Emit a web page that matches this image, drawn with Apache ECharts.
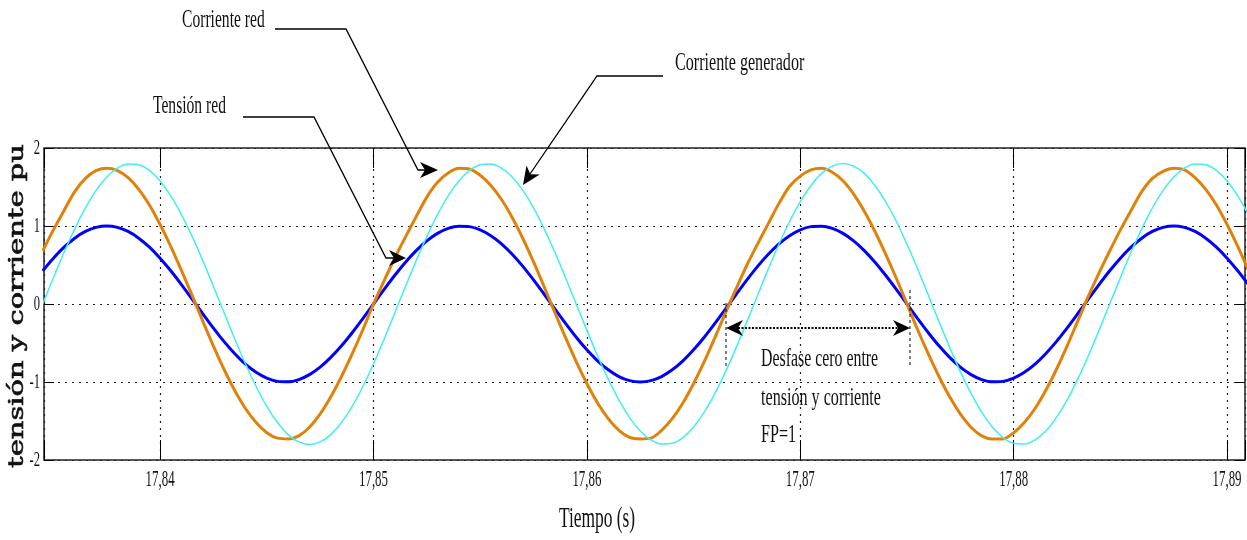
<!DOCTYPE html>
<html>
<head>
<meta charset="utf-8">
<script src="https://cdn.jsdelivr.net/npm/echarts@6/dist/echarts.min.js"></script>
<style>
  html, body { margin: 0; padding: 0; background: #fff; }
  #chart { width: 1247px; height: 540px; }
</style>
</head>
<body>
<div id="chart"></div>
<script>
// Sample instants (s), one every 0.5 ms
const times = [
  17.8345,17.835,17.8355,17.836,17.8365,17.837,17.8375,17.838,17.8385,17.839,
  17.8395,17.84,17.8405,17.841,17.8415,17.842,17.8425,17.843,17.8435,17.844,
  17.8445,17.845,17.8455,17.846,17.8465,17.847,17.8475,17.848,17.8485,17.849,
  17.8495,17.85,17.8505,17.851,17.8515,17.852,17.8525,17.853,17.8535,17.854,
  17.8545,17.855,17.8555,17.856,17.8565,17.857,17.8575,17.858,17.8585,17.859,
  17.8595,17.86,17.8605,17.861,17.8615,17.862,17.8625,17.863,17.8635,17.864,
  17.8645,17.865,17.8655,17.866,17.8665,17.867,17.8675,17.868,17.8685,17.869,
  17.8695,17.87,17.8705,17.871,17.8715,17.872,17.8725,17.873,17.8735,17.874,
  17.8745,17.875,17.8755,17.876,17.8765,17.877,17.8775,17.878,17.8785,17.879,
  17.8795,17.88,17.8805,17.881,17.8815,17.882,17.8825,17.883,17.8835,17.884,
  17.8845,17.885,17.8855,17.886,17.8865,17.887,17.8875,17.888,17.8885,17.889,
  17.8895,17.89,17.8905,17.891
];

// Tensión red (pu)
const tensionRed = [
  0.426,0.588,0.729,0.844,0.930,0.982,1.000,0.982,0.930,0.844,
  0.729,0.588,0.426,0.249,0.063,-0.125,-0.309,-0.482,-0.637,-0.771,
  -0.876,-0.951,-0.992,-0.998,-0.969,-0.905,-0.809,-0.685,-0.536,-0.368,
  -0.187,0,0.187,0.368,0.536,0.685,0.809,0.905,0.969,0.998,
  0.992,0.951,0.876,0.771,0.637,0.482,0.309,0.125,-0.063,-0.249,
  -0.426,-0.588,-0.729,-0.844,-0.930,-0.982,-1.000,-0.982,-0.930,-0.844,
  -0.729,-0.588,-0.426,-0.249,-0.063,0.125,0.309,0.482,0.637,0.771,
  0.876,0.951,0.992,0.998,0.969,0.905,0.809,0.685,0.536,0.368,
  0.187,0,-0.187,-0.368,-0.536,-0.685,-0.809,-0.905,-0.969,-0.998,
  -0.992,-0.951,-0.876,-0.771,-0.637,-0.482,-0.309,-0.125,0.063,0.249,
  0.426,0.588,0.729,0.844,0.930,0.982,1.000,0.982,0.930,0.844,
  0.729,0.588,0.426,0.249
];

// Corriente red (pu)
const corrienteRed = [
  0.68,0.95,1.20,1.44,1.61,1.71,1.74,1.71,1.62,1.47,
  1.27,1.02,0.74,0.43,0.11,-0.22,-0.54,-0.84,-1.11,-1.34,
  -1.52,-1.65,-1.72,-1.73,-1.69,-1.58,-1.41,-1.19,-0.93,-0.64,
  -0.33,0.00,0.30,0.59,0.86,1.12,1.37,1.56,1.68,1.74,
  1.73,1.65,1.52,1.34,1.11,0.84,0.54,0.22,-0.11,-0.43,
  -0.74,-1.02,-1.27,-1.47,-1.62,-1.71,-1.73,-1.72,-1.62,-1.47,
  -1.27,-1.02,-0.74,-0.43,-0.11,0.20,0.50,0.77,1.03,1.29,
  1.51,1.64,1.72,1.74,1.69,1.58,1.41,1.19,0.93,0.64,
  0.33,0.00,-0.33,-0.64,-0.93,-1.19,-1.41,-1.58,-1.69,-1.73,
  -1.73,-1.65,-1.52,-1.34,-1.11,-0.84,-0.54,-0.22,0.10,0.40,
  0.68,0.95,1.20,1.44,1.61,1.70,1.74,1.72,1.62,1.47,
  1.27,1.02,0.74,0.43
];

// Corriente generador (pu)
const corrienteGenerador = [
  0,0.337,0.663,0.964,1.232,1.456,1.629,1.743,1.796,1.786,
  1.712,1.577,1.387,1.147,0.867,0.556,0.226,-0.113,-0.448,-0.766,
  -1.058,-1.312,-1.520,-1.674,-1.768,-1.800,-1.768,-1.674,-1.520,-1.312,
  -1.058,-0.766,-0.448,-0.113,0.226,0.556,0.867,1.147,1.387,1.577,
  1.712,1.786,1.796,1.743,1.629,1.456,1.232,0.964,0.663,0.337,
  0,-0.337,-0.663,-0.964,-1.232,-1.456,-1.629,-1.743,-1.796,-1.786,
  -1.712,-1.577,-1.387,-1.147,-0.867,-0.556,-0.226,0.113,0.448,0.766,
  1.058,1.312,1.520,1.674,1.768,1.800,1.768,1.674,1.520,1.312,
  1.058,0.766,0.448,0.113,-0.226,-0.556,-0.867,-1.147,-1.387,-1.577,
  -1.712,-1.786,-1.796,-1.743,-1.629,-1.456,-1.232,-0.964,-0.663,-0.337,
  0,0.337,0.663,0.964,1.232,1.456,1.629,1.743,1.796,1.786,
  1.712,1.577,1.387,1.147
];

const xTicks = [17.84, 17.85, 17.86, 17.87, 17.88, 17.89];
const xTickLabels = ['17,84', '17,85', '17,86', '17,87', '17,88', '17,89'];
const yTicks = [-2, -1, 0, 1, 2];
const yTickLabels = ['-2', '-1', '0', '1', '2'];
const xRange = [17.83456, 17.89084];
const yRange = [-2, 2];

const serif = "'Liberation Serif', 'Times New Roman', serif";
const pairs = vals => times.map((t, i) => [t, vals[i]]);

const chart = echarts.init(document.getElementById('chart'), null, { renderer: 'canvas' });

const dotted = { show: true, lineStyle: { color: '#222', width: 1.2, type: [2, 5] } };
const tick = len => ({ show: true, inside: true, length: len, lineStyle: { color: '#000', width: 1 } });
const noLine = { show: false, onZero: false };

chart.setOption({
  backgroundColor: '#fff',
  animation: false,
  grid: {
    left: 44, right: 2, top: 148, bottom: 80,
    show: true, borderColor: '#222', borderWidth: 1.5, backgroundColor: 'transparent'
  },
  xAxis: [
    {
      type: 'value', position: 'bottom', min: xRange[0], max: xRange[1],
      minInterval: 0.01, maxInterval: 0.01,
      axisLine: noLine, axisTick: tick(20), axisLabel: { show: false }, splitLine: dotted
    },
    {
      type: 'value', position: 'top', min: xRange[0], max: xRange[1],
      minInterval: 0.01, maxInterval: 0.01,
      axisLine: noLine, axisTick: tick(20), axisLabel: { show: false }, splitLine: { show: false }
    }
  ],
  yAxis: [
    {
      type: 'value', position: 'left', min: yRange[0], max: yRange[1], interval: 1,
      axisLine: noLine, axisTick: tick(10), axisLabel: { show: false }, splitLine: dotted
    },
    {
      type: 'value', position: 'right', min: yRange[0], max: yRange[1], interval: 1,
      axisLine: noLine, axisTick: tick(10), axisLabel: { show: false }, splitLine: { show: false }
    }
  ],
  series: [
    {
      name: 'Tensión red', type: 'line', data: pairs(tensionRed),
      showSymbol: false, smooth: 0.3, clip: true,
      lineStyle: { color: '#0000ff', width: 3 }, z: 3
    },
    {
      name: 'Corriente red', type: 'line', data: pairs(corrienteRed),
      showSymbol: false, smooth: 0.3, clip: true,
      lineStyle: { color: '#e0820a', width: 3 }, z: 4
    },
    {
      name: 'Corriente generador', type: 'line', data: pairs(corrienteGenerador),
      showSymbol: false, smooth: 0.3, clip: true,
      lineStyle: { color: '#3ff0f0', width: 1.5 }, z: 5
    }
  ]
});

// Text helper: condensed serif text
function txt(text, x, y, size, sx, align, extra) {
  return Object.assign({
    type: 'text', x: x, y: y, scaleX: sx, z: 100,
    style: {
      text: text, fill: '#111', fontSize: size, fontFamily: serif,
      align: align, verticalAlign: 'middle', textAlign: align, textVerticalAlign: 'middle'
    }
  }, extra || {});
}
function poly(points, w, dash) {
  return { type: 'polyline', z: 100, shape: { points: points },
    style: { stroke: '#000', lineWidth: w || 1.3, fill: null, lineDash: dash || null } };
}
function head(points) {
  return { type: 'polygon', z: 101, shape: { points: points }, style: { fill: '#000' } };
}
// Horizontal stretch that makes a string span a given length
function stretchTo(text, font, length) {
  const ctx = document.createElement('canvas').getContext('2d');
  ctx.font = font;
  return length / ctx.measureText(text).width;
}

const gfx = [];

// Tick labels placed through the axes' own scales
const yBottom = chart.convertToPixel({ yAxisIndex: 0 }, yRange[0]);
xTicks.forEach((v, i) => {
  const px = chart.convertToPixel({ xAxisIndex: 0 }, v);
  gfx.push(txt(xTickLabels[i], px, yBottom + 20, 23, 0.56, 'center'));
});
const xLeft = chart.convertToPixel({ xAxisIndex: 0 }, xRange[0]);
yTicks.forEach((v, i) => {
  const py = chart.convertToPixel({ yAxisIndex: 0 }, v);
  gfx.push(txt(yTickLabels[i], xLeft - 4, py, 22, 0.57, 'right'));
});

// Axis titles
gfx.push(txt('Tiempo (s)', 597, 519, 30, 0.58, 'center'));
const yName = 'tensión y corriente pu';
const yNameFont = "20px 'DejaVu Serif', serif";
gfx.push({
  type: 'text', x: 18, y: 306, rotation: Math.PI / 2,
  scaleX: stretchTo(yName, yNameFont, 324), z: 100,
  style: {
    text: yName, fill: '#111', fontSize: 20,
    fontFamily: "'DejaVu Serif', serif", stroke: '#111', lineWidth: 0.6,
    align: 'center', verticalAlign: 'middle', textAlign: 'center', textVerticalAlign: 'middle'
  }
});

// Callouts
gfx.push(txt('Corriente red', 182, 20, 26, 0.6, 'left'));
gfx.push(poly([[275, 29], [346, 29], [418, 170], [426, 170]]));
gfx.push(head([[438, 170], [420, 162], [425, 170], [420, 178]]));

gfx.push(txt('Tensión red', 153, 106, 26, 0.6, 'left'));
gfx.push(poly([[243, 117], [314, 117], [386, 258], [394, 258]]));
gfx.push(head([[406, 258], [389, 250], [394, 258], [389, 266]]));

gfx.push(txt('Corriente generador', 675, 63, 26, 0.62, 'left'));
gfx.push(poly([[663, 76], [597, 76], [530, 174]]));
gfx.push(head([[523, 185], [539.7, 174.6], [530.3, 174.2], [526.5, 165.6]]));

// Zero phase shift marker
gfx.push(poly([[726, 303], [726, 368]], 1, [3, 3]));
gfx.push(poly([[910, 290], [910, 368]], 1, [3, 3]));
gfx.push(poly([[738, 328], [898, 328]], 2, [2, 1.5]));
gfx.push(head([[726, 328], [743, 320], [738, 328], [743, 336]]));
gfx.push(head([[910, 328], [893, 320], [898, 328], [893, 336]]));
gfx.push(txt('Desfase cero entre', 761, 359, 26, 0.61, 'left'));
gfx.push(txt('tensión y corriente', 761, 398, 26, 0.62, 'left'));
gfx.push(txt('FP=1', 761, 435, 26, 0.62, 'left'));

chart.setOption({ graphic: { elements: gfx } });
</script>
</body>
</html>
